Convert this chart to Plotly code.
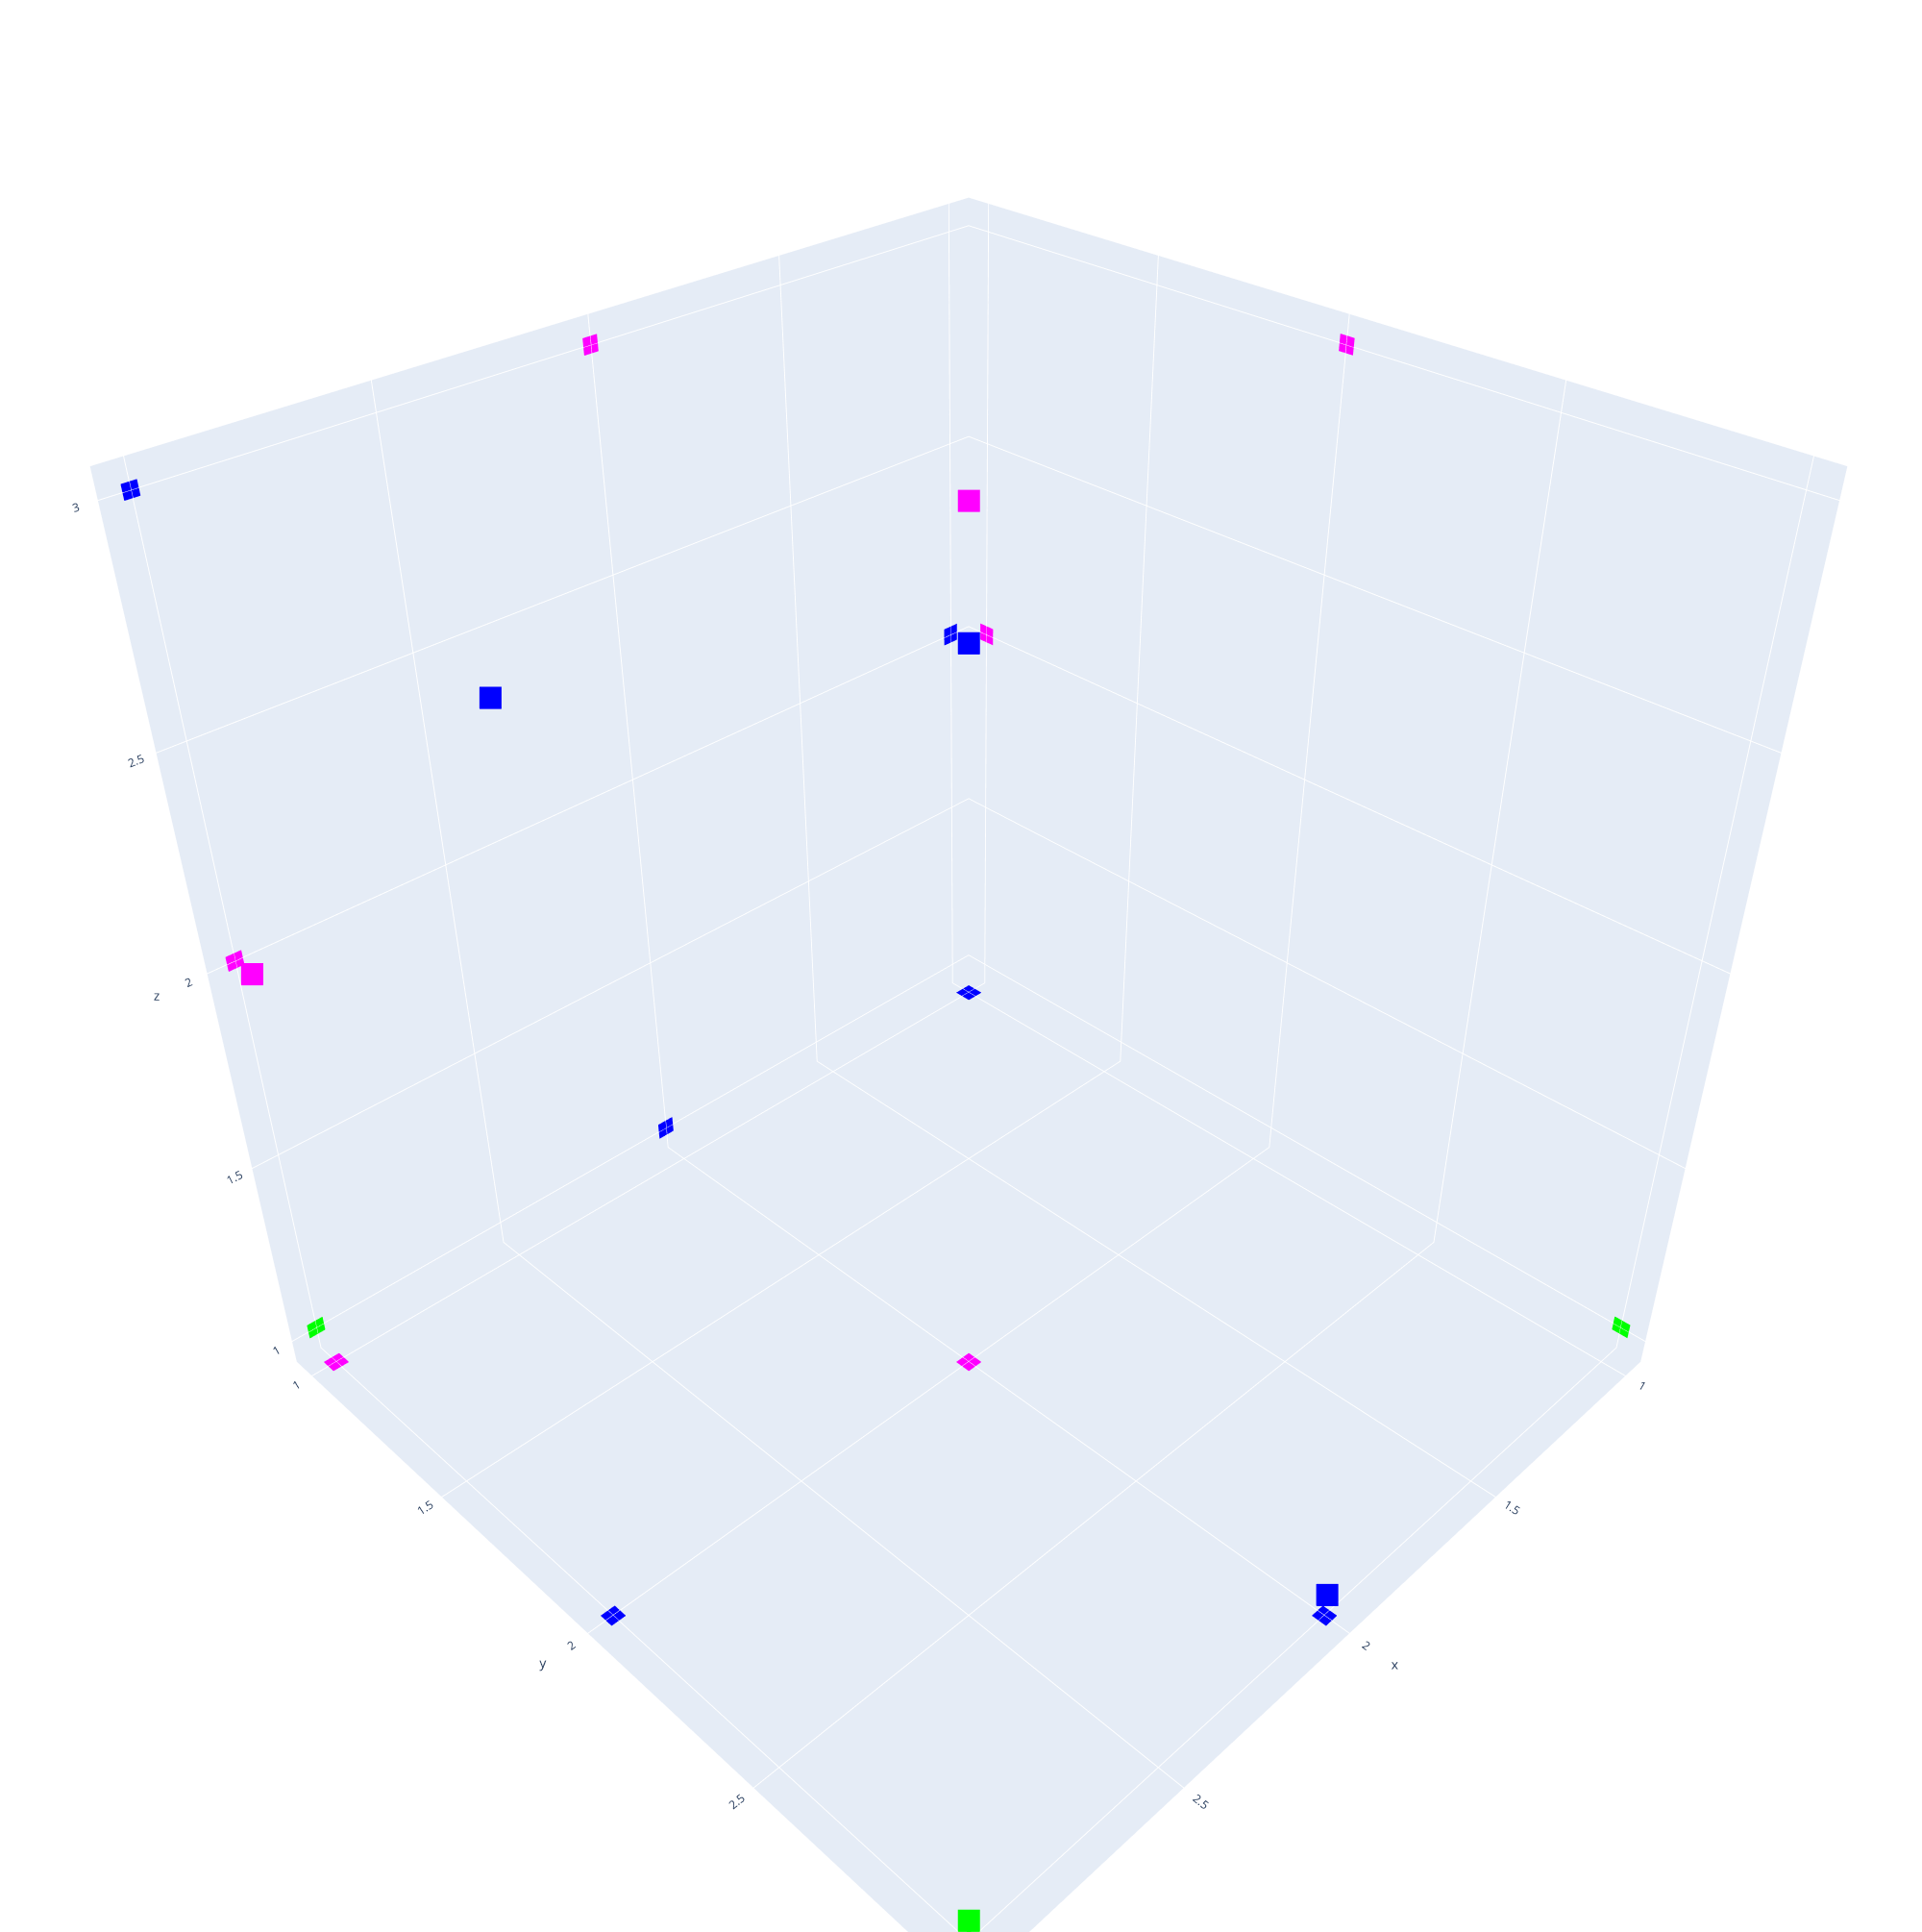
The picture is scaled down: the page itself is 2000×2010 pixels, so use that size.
import plotly.graph_objects as go

# Data
x_blue = [1, 2, 3]
y_blue = [1, 3, 2]
z_blue = [2, 1, 3]
x_mag = [2, 3]
y_mag = [2, 1]
z_mag = [3, 2]
x_green = [3]
y_green = [3]
z_green = [1]

fig = go.Figure()
for xs, ys, zs, col in [(x_blue, y_blue, z_blue, '#0000FF'),
                        (x_mag, y_mag, z_mag, '#FF00FF'),
                        (x_green, y_green, z_green, '#00FF00')]:
    fig.add_trace(go.Scatter3d(x=xs, y=ys, z=zs, mode='markers',
                               marker=dict(color=col, size=12, symbol='square'),
                               projection=dict(x=dict(show=True), y=dict(show=True), z=dict(show=True))))

fig.update_layout(width=2000, height=2010, showlegend=False,
                  margin=dict(l=0, r=0, t=0, b=0))

fig.write_html("out.html")
